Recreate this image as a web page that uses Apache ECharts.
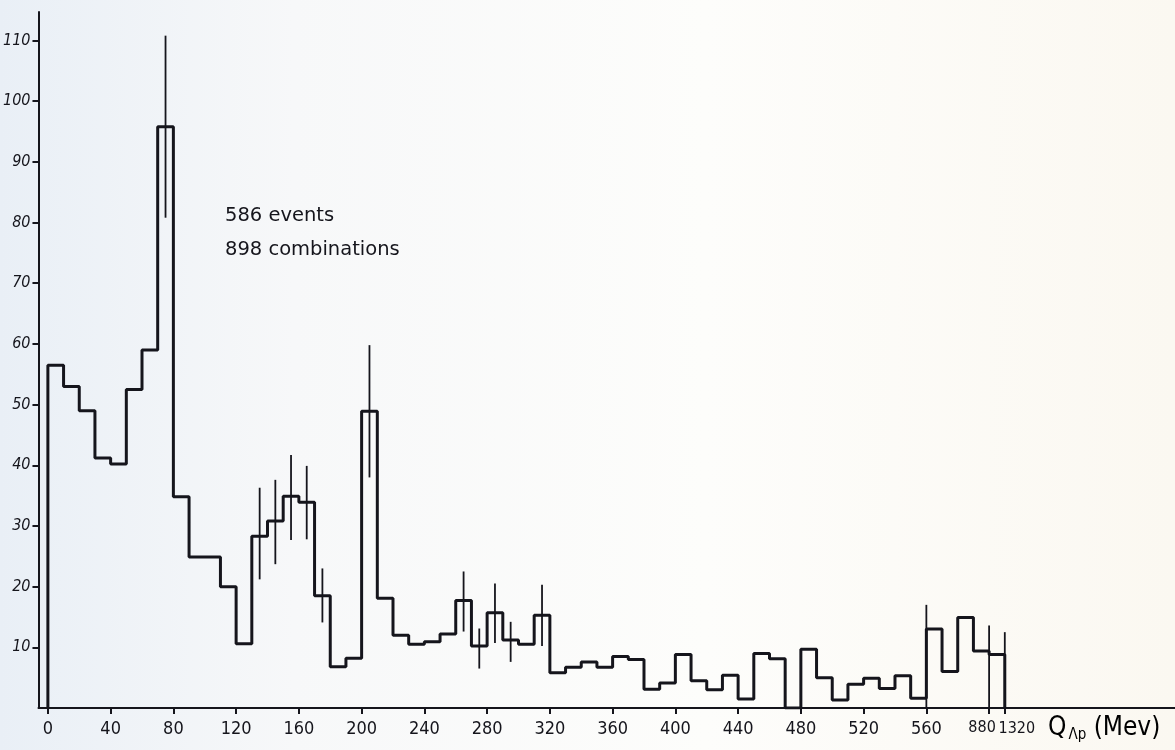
<!DOCTYPE html>
<html>
<head>
<meta charset="utf-8">
<script src="https://cdn.jsdelivr.net/npm/echarts@6/dist/echarts.min.js"></script>
<style>
  html, body { margin: 0; padding: 0; }
  body {
    width: 1175px; height: 750px; overflow: hidden;
    background: linear-gradient(90deg, #e9eff6 0%, #f7f8f9 25%, #fdfdfb 60%, #fbf8f1 100%);
  }
  #main { width: 1175px; height: 750px; }
</style>
</head>
<body>
<div id="main"></div>
<script>
// counts per bin (bins 0..55 are 10 MeV wide, then 560-640 ... 880-1320)
var counts = [56.5, 53, 49, 41.2, 40.2, 52.5, 59, 95.8, 34.8, 24.9,
              24.9, 20, 10.6, 28.3, 30.8, 34.9, 33.9, 18.5, 6.8, 8.2,
              48.9, 18.1, 12, 10.5, 10.9, 12.2, 17.7, 10.2, 15.7, 11.2,
              10.5, 15.3, 5.8, 6.7, 7.6, 6.7, 8.5, 8.0, 3.1, 4.1,
              8.8, 4.5, 3.0, 5.4, 1.5, 9.0, 8.1, 0, 9.7, 5.0,
              1.3, 3.9, 4.9, 3.2, 5.3, 1.6, 13.0, 6.0, 14.9, 9.4, 8.8];

// error bars: bin index, low, high
var errBins = [7, 13, 14, 15, 16, 17, 20, 26, 27, 28, 29, 31];
var errLow  = [80.8, 21.2, 23.7, 27.7, 27.8, 14.1, 38.0, 12.6, 6.5, 10.7, 7.6, 10.2];
var errHigh = [110.8, 36.3, 37.6, 41.7, 39.9, 23.0, 59.8, 22.5, 13.1, 20.5, 14.2, 20.3];

// full vertical lines at bin edges 560, 880, 1320
var sepEdges = [56, 60, 61];
var sepTops = [17.0, 13.6, 12.5];

// x tick positions (bin edge index) and their labels
var xTickPos = [0, 4, 8, 12, 16, 20, 24, 28, 32, 36, 40, 44, 48, 52, 56, 60];
var xTickLabels = ['0', '40', '80', '120', '160', '200', '240', '280', '320', '360',
                   '400', '440', '480', '520', '560', '880'];
var xLastPos = [61];
var xLastLabel = '1320';
var yTicks = [10, 20, 30, 40, 50, 60, 70, 80, 90, 100, 110];

var histData = [[0, 0]];
for (var i = 0; i < counts.length; i++) {
    histData.push([i, counts[i]]);
}
histData.push([counts.length, counts[counts.length - 1]]);
histData.push([counts.length, 0]);

var errData = [];
for (var j = 0; j < errBins.length; j++) {
    errData.push([errBins[j] + 0.5, errLow[j], errHigh[j]]);
}
for (var k = 0; k < sepEdges.length; k++) {
    errData.push([sepEdges[k], 0, sepTops[k]]);
}

var ink = '#15151c';
var font = "'DejaVu Sans Condensed', 'DejaVu Sans', sans-serif";
var xMin = -0.6, xMax = 71.85;

var chart = echarts.init(document.getElementById('main'));
var option = {
    animation: false,
    grid: { left: 34, right: 0, top: 12, bottom: 42 },
    xAxis: [
        {
            type: 'value',
            min: xMin,
            max: xMax,
            splitLine: { show: false },
            axisLine: { onZero: false, lineStyle: { color: ink, width: 2 } },
            axisTick: {
                customValues: xTickPos,
                length: 6,
                lineStyle: { color: ink, width: 2 }
            },
            axisLabel: {
                customValues: xTickPos,
                hideOverlap: false,
                margin: 12,
                color: ink,
                fontFamily: font,
                fontSize: 18,
                formatter: function (v) {
                    var lab = xTickLabels[xTickPos.indexOf(v)];
                    if (lab === '880') return '{l|880}';
                    return lab;
                },
                rich: {
                    l: { fontFamily: font, fontSize: 16, color: ink, padding: [0, 14, 0, 0] }
                }
            }
        },
        {
            // second axis on the same scale, only to carry the 1320 label
            type: 'value',
            position: 'bottom',
            min: xMin,
            max: xMax,
            splitLine: { show: false },
            axisLine: { show: false, onZero: false },
            axisTick: {
                customValues: xLastPos,
                length: 6,
                lineStyle: { color: ink, width: 2 }
            },
            axisLabel: {
                customValues: xLastPos,
                margin: 13,
                color: ink,
                fontFamily: font,
                fontSize: 16,
                formatter: function () { return '{r|' + xLastLabel + '}'; },
                rich: {
                    r: { fontFamily: font, fontSize: 16, color: ink, padding: [0, 0, 0, 24] }
                }
            }
        }
    ],
    yAxis: {
        type: 'value',
        min: 0,
        max: 114.7,
        splitLine: { show: false },
        axisLine: { show: true, onZero: false, lineStyle: { color: ink, width: 2 } },
        axisTick: {
            show: true,
            customValues: yTicks,
            length: 6,
            lineStyle: { color: ink, width: 2 }
        },
        axisLabel: {
            customValues: yTicks,
            margin: 8,
            color: ink,
            fontFamily: font,
            fontStyle: 'italic',
            fontSize: 16
        }
    },
    series: [
        {
            type: 'line',
            step: 'end',
            data: histData,
            symbol: 'none',
            lineStyle: { color: ink, width: 3 },
            z: 3
        },
        {
            type: 'custom',
            data: errData,
            encode: { x: 0, y: [1, 2] },
            renderItem: function (params, api) {
                var p1 = api.coord([api.value(0), api.value(1)]);
                var p2 = api.coord([api.value(0), api.value(2)]);
                return {
                    type: 'line',
                    shape: { x1: p1[0], y1: p1[1], x2: p2[0], y2: p2[1] },
                    style: { stroke: ink, lineWidth: 1.8 }
                };
            },
            z: 4
        }
    ],
    graphic: [
        {
            type: 'text', left: 225, top: 206,
            style: { text: '586 events', fill: ink, font: "19.5px 'DejaVu Sans', sans-serif" }
        },
        {
            type: 'text', left: 225, top: 240,
            style: { text: '898 combinations', fill: ink, font: "19.5px 'DejaVu Sans', sans-serif" }
        },
        {
            type: 'text', left: 1048, top: 715,
            style: {
                text: '{q|Q}{s|Λp}{m| (Mev)}',
                rich: {
                    q: { fontFamily: font, fontSize: 26, color: ink },
                    s: { fontFamily: font, fontSize: 15, color: ink, padding: [14, 0, 0, 2] },
                    m: { fontFamily: font, fontSize: 26, color: ink }
                }
            }
        }
    ]
};
chart.setOption(option);
</script>
</body>
</html>
